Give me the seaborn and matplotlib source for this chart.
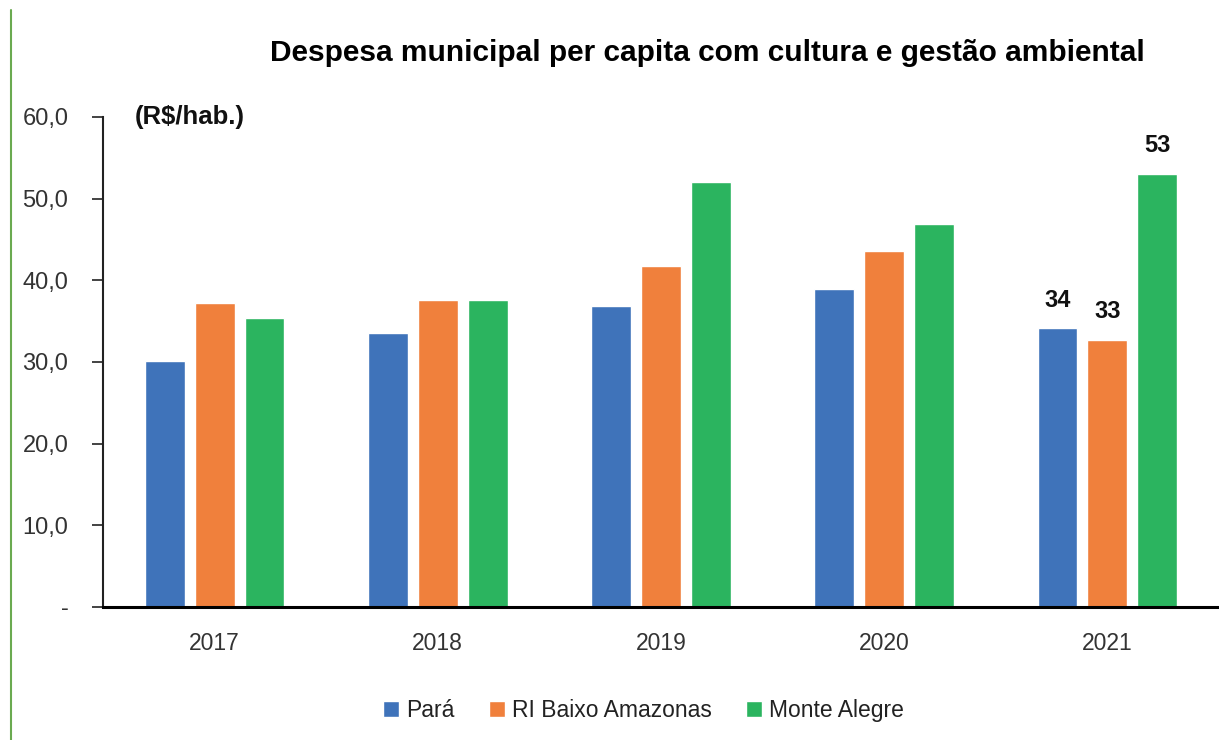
import matplotlib
matplotlib.use("Agg")
import matplotlib.pyplot as plt
import seaborn as sns
import pandas as pd
from matplotlib.lines import Line2D

years = ["2017", "2018", "2019", "2020", "2021"]
series = ["Pará", "RI Baixo Amazonas", "Monte Alegre"]
para = [30.1, 33.5, 36.8, 38.9, 34.1]
ri_baixo = [37.2, 37.6, 41.7, 43.6, 32.7]
monte_alegre = [35.4, 37.6, 52.0, 46.9, 53.0]
yticks = [0, 10, 20, 30, 40, 50, 60]
colors = ["#3F73BA", "#F0803C", "#2BB45F"]

rows = []
for s, vals in zip(series, [para, ri_baixo, monte_alegre]):
    for y, v in zip(years, vals):
        rows.append({"Ano": y, "Série": s, "Valor": v})
df = pd.DataFrame(rows)

sns.set_theme(style="white")
plt.rcParams["font.family"] = ["Liberation Sans", "DejaVu Sans"]

fig = plt.figure(figsize=(12.19, 7.40), dpi=100)
ax = fig.add_axes([0.0845, 0.180, 0.9155, 0.662])

sns.barplot(data=df, x="Ano", y="Valor", hue="Série", order=years, hue_order=series,
            palette=colors, width=0.67, gap=0.2, saturation=1, ax=ax, errorbar=None)

ax.set_ylim(0, 60)
ax.set_xlim(-0.5, 4.5)
ax.set_yticks(yticks)
ax.set_yticklabels(["-" if v == 0 else f"{v:.1f}".replace(".", ",") for v in yticks])
ax.set_xlabel("")
ax.set_ylabel("")
for s in ["top", "right"]:
    ax.spines[s].set_visible(False)
ax.spines["left"].set_color("#222222")
ax.spines["left"].set_linewidth(1.5)
ax.spines["bottom"].set_color("black")
ax.spines["bottom"].set_linewidth(2.2)
ax.tick_params(axis="y", which="major", direction="out", length=8, width=1.2,
               color="#222222", labelsize=17, labelcolor="#333333", left=True)
ax.tick_params(axis="x", length=0, labelsize=16.5, labelcolor="#333333", pad=18)
ax.yaxis.set_tick_params(pad=17)

# data labels only for 2021
for cont in ax.containers:
    labels = [""] * len(years)
    labels[-1] = f"{cont.datavalues[-1]:.0f}"
    ax.bar_label(cont, labels=labels, padding=12, fontsize=17, fontweight="bold",
                 color="#111111")

ax.text(0.028, 1.0, "(R$/hab.)", transform=ax.transAxes, fontsize=18.5,
        fontweight="bold", va="center", ha="left", color="#111111")

leg = ax.get_legend()
handles, labels = ax.get_legend_handles_labels()
if leg is not None:
    leg.remove()
fig.legend(handles, labels, loc="center", bbox_to_anchor=(0.528, 0.040), ncol=3,
           frameon=False, fontsize=16.5, handlelength=0.7, handleheight=0.7,
           handletextpad=0.3, columnspacing=1.5, labelcolor="#222222")

fig.text(0.580, 0.928, "Despesa municipal per capita com cultura e gestão ambiental",
         ha="center", va="center", fontsize=21.5, fontweight="bold", color="black")

fig.add_artist(Line2D([0.009, 0.009], [0.0, 0.987], transform=fig.transFigure,
                      color="#6AAA50", linewidth=1.5))

fig.savefig("out.png", dpi=100)
